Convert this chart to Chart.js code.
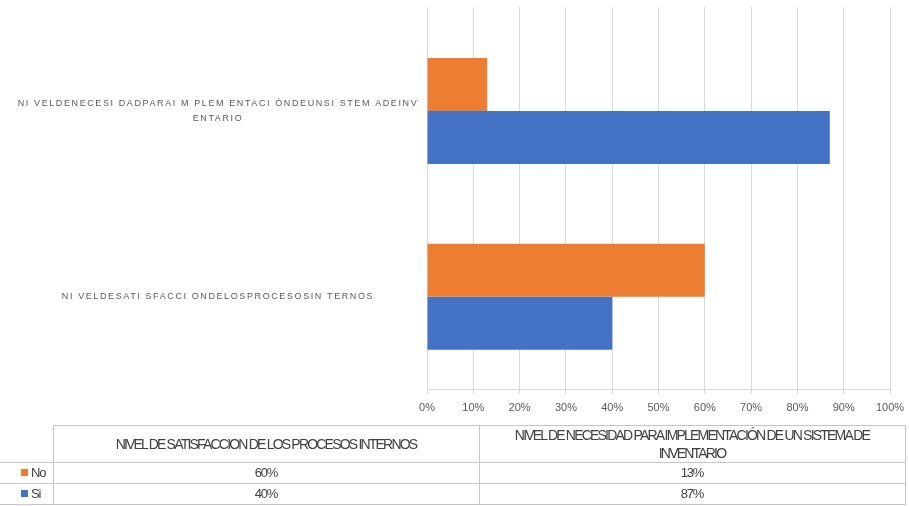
<!DOCTYPE html>
<html>
<head>
<meta charset="utf-8">
<script src="https://cdn.jsdelivr.net/npm/chart.js@4.4.1/dist/chart.umd.min.js"></script>
<style>
  html, body { margin: 0; padding: 0; background: #fff; }
  #wrap { position: relative; width: 909px; height: 506px; overflow: hidden; }
  #grafico { position: absolute; left: 0; top: 0; }
  #tabla {
    position: absolute; left: 0; top: 425px; width: 905px;
    border-collapse: collapse; table-layout: fixed;
    font-family: "Liberation Sans", Arial, sans-serif;
    font-size: 13px; letter-spacing: -1.2px; color: #404040;
  }
  #tabla td { border: 1px solid #c6c6c6; text-align: center; padding: 0 20px; height: 20px; line-height: 16px; }
  #tabla td.serie { text-align: left; padding: 0 0 0 21px; border-left: none; }
  #tabla tr.cab td { height: 36px; font-size: 14px; letter-spacing: -1.8px; line-height: 18px; }
  #tabla tr.cab td.vacio { border: none; }
  .marca { display: inline-block; width: 7px; height: 7px; margin-right: 3px; vertical-align: 1px; }
</style>
</head>
<body>
<div id="wrap">
  <canvas id="grafico" width="909" height="430"></canvas>
  <table id="tabla"></table>
</div>
<script>
// ===== datos =====
const categorias = [
  "NIVEL DE SATISFACCION DE LOS PROCESOS INTERNOS",
  "NIVEL DE NECESIDAD PARA IMPLEMENTACIÓN DE UN SISTEMA DE INVENTARIO"
];
// etiquetas del eje tal como aparecen en la imagen
const etiquetasEje = [
  ["NI VELDESATI SFACCI ONDELOSPROCESOSIN TERNOS"],
  ["NI VELDENECESI DADPARAI M PLEM ENTACI ÓNDEUNSI STEM ADEINV", "ENTARIO"]
];
const series = ["No", "Si"];
const valoresNo = [60, 13];
const valoresSi = [40, 87];
const colores = ["#ED7D31", "#4472C4"];

// etiquetas del eje Y dibujadas a mano (letras espaciadas)
const pluginEtiquetas = {
  id: "etiquetasEje",
  beforeDatasetsDraw(chart) {
    // las líneas de división suben un poco más que el área del gráfico
    const { ctx, chartArea, scales: { x } } = chart;
    ctx.save();
    ctx.strokeStyle = "#d9d9d9";
    ctx.lineWidth = 1;
    x.ticks.forEach(t => {
      const px = Math.round(x.getPixelForValue(t.value) - 0.5) + 0.5;
      ctx.beginPath();
      ctx.moveTo(px, 7);
      ctx.lineTo(px, chartArea.top);
      ctx.stroke();
    });
    ctx.restore();
  },
  afterDraw(chart) {
    const { ctx, scales: { y } } = chart;
    ctx.save();
    ctx.font = "9px 'Liberation Sans'";
    ctx.fillStyle = "#595959";
    ctx.textAlign = "center";
    ctx.textBaseline = "middle";
    ctx.letterSpacing = "1.6px";
    etiquetasEje.forEach((lineas, i) => {
      const yc = y.getPixelForValue(i);
      lineas.forEach((t, j) => {
        ctx.fillText(t, 218, yc + (j - (lineas.length - 1) / 2) * 15);
      });
    });
    ctx.restore();
  }
};

// ===== gráfico =====
const ctx = document.getElementById("grafico").getContext("2d");

new Chart(ctx, {
  type: "bar",
  data: {
    labels: categorias,
    datasets: [
      { label: series[0], data: valoresNo, backgroundColor: colores[0] },
      { label: series[1], data: valoresSi, backgroundColor: colores[1] }
    ]
  },
  options: {
    indexAxis: "y",
    responsive: false,
    animation: false,
    layout: { padding: { top: 18, right: 19, bottom: 7, left: 0 } },
    datasets: { bar: { barPercentage: 1, categoryPercentage: 0.57 } },
    plugins: { legend: { display: false }, tooltip: { enabled: false } },
    scales: {
      x: {
        min: 0,
        max: 100,
        afterFit: s => { s.paddingRight = 0; s.paddingLeft = 0; },
        ticks: {
          stepSize: 10,
          padding: 8,
          color: "#595959",
          font: { family: "Liberation Sans", size: 11 },
          callback: v => v + "%"
        },
        grid: { color: "#d9d9d9", tickLength: 4 },
        border: { color: "#d9d9d9" }
      },
      y: {
        reverse: true,
        grid: { display: false },
        border: { display: false },
        ticks: { display: false },
        afterFit: s => { s.width = 427; }
      }
    }
  },
  plugins: [pluginEtiquetas]
});

// ===== tabla de datos =====
const tabla = document.getElementById("tabla");
let html = '<colgroup><col style="width:53px"><col style="width:426px"><col style="width:426px"></colgroup>';
html += '<tr class="cab"><td class="vacio"></td>' + categorias.map(c => "<td>" + c + "</td>").join("") + "</tr>";
[valoresNo, valoresSi].forEach((vals, i) => {
  html += '<tr><td class="serie"><span class="marca" style="background:' + colores[i] + '"></span>' + series[i] + "</td>" +
    vals.map(v => "<td>" + v + "%</td>").join("") + "</tr>";
});
tabla.innerHTML = html;
</script>
</body>
</html>
